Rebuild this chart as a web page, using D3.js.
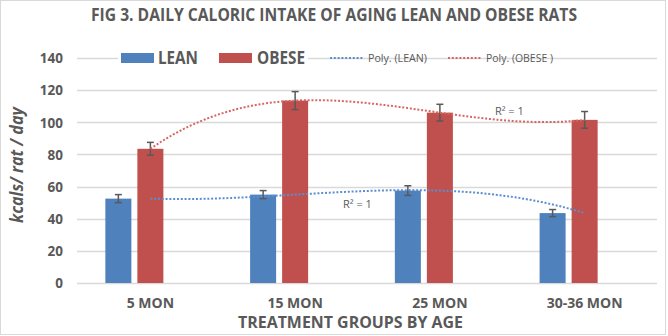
<!DOCTYPE html>
<html>
<head>
<meta charset="utf-8">
<script src="https://cdn.jsdelivr.net/npm/d3@7"></script>
<style>
  html, body { margin: 0; padding: 0; background: #fff; }
  svg { display: block; font-family: "Open Sans", "Noto Sans", sans-serif; }
</style>
</head>
<body>
<svg id="chart" width="668" height="336"></svg>
<script>
// Daily caloric intake data (kcal / rat / day), mean and error
const categories = ["5 MON", "15 MON", "25 MON", "30-36 MON"];
const seriesNames = ["LEAN", "OBESE"];
const leanValues = [52.5, 55, 57.5, 43.5];
const leanErrors = [2.5, 2.5, 3, 2.2];
const obeseValues = [83.5, 113.5, 106, 101.5];
const obeseErrors = [4, 5.6, 5.2, 5.2];
const yTicks = [0, 20, 40, 60, 80, 100, 120, 140];

const colors = { LEAN: "#4f81bd", OBESE: "#c0504d" };
const trendColors = { LEAN: "#5b8ed0", OBESE: "#d46763" };
const textColor = "#595959";
const gridColor = "#d9d9d9";

const svg = d3.select("#chart");

// chart frame
svg.append("rect")
  .attr("x", 0.5).attr("y", 0.5)
  .attr("width", 665).attr("height", 334)
  .attr("fill", "#fff").attr("stroke", gridColor);

const plot = { left: 78, right: 657, top: 58, bottom: 283 };

const y = d3.scaleLinear().domain([0, 140]).range([plot.bottom, plot.top]);
const x = d3.scaleBand().domain(categories)
  .range([plot.left, plot.right])
  .paddingInner(0.378).paddingOuter(0.189);
// third (empty) slot keeps the pair of bars left of the category centre
const xInner = d3.scaleBand().domain(["LEAN", "OBESE", "_"])
  .range([0, x.bandwidth()]).paddingInner(0.1875).paddingOuter(0);
const center = c => x(c) + x.bandwidth() / 2;

// gridlines
svg.append("g").selectAll("line").data(yTicks).join("line")
  .attr("x1", plot.left - 1).attr("x2", plot.right)
  .attr("y1", d => Math.round(y(d)) + 0.5).attr("y2", d => Math.round(y(d)) + 0.5)
  .attr("stroke", gridColor).attr("stroke-width", 1.3);

// y axis labels
const yAxis = svg.append("g").attr("transform", `translate(${plot.left - 15},0)`)
  .call(d3.axisLeft(y).tickValues(yTicks).tickSize(0).tickPadding(0));
yAxis.select(".domain").remove();
yAxis.selectAll("text")
  .attr("fill", textColor).attr("font-size", 13.5).attr("font-weight", "bold")
  .attr("font-family", "'Open Sans', sans-serif").attr("dy", "0.35em");

// x axis labels
const xAxis = svg.append("g").attr("transform", `translate(0,${plot.bottom})`)
  .call(d3.axisBottom(x).tickSize(0).tickPadding(0));
xAxis.select(".domain").remove();
xAxis.selectAll("text")
  .attr("fill", textColor).attr("font-size", 14).attr("font-weight", "bold")
  .attr("font-family", "'Open Sans', sans-serif").attr("y", 25).attr("dy", 0);

// bars
const seriesData = [
  { name: "LEAN", values: leanValues, errors: leanErrors },
  { name: "OBESE", values: obeseValues, errors: obeseErrors }
];
const bars = [];
seriesData.forEach(s => s.values.forEach((v, i) =>
  bars.push({ series: s.name, cat: categories[i], value: v, err: s.errors[i] })));

svg.append("g").selectAll("rect").data(bars).join("rect")
  .attr("x", d => x(d.cat) + xInner(d.series))
  .attr("width", xInner.bandwidth())
  .attr("y", d => y(d.value))
  .attr("height", d => y(0) - y(d.value))
  .attr("fill", d => colors[d.series]);

// error bars
const eb = svg.append("g").attr("stroke", textColor).attr("stroke-width", 1.5);
bars.forEach(d => {
  const cx = x(d.cat) + xInner(d.series) + xInner.bandwidth() / 2;
  const y1 = y(d.value + d.err), y2 = y(d.value - d.err);
  eb.append("line").attr("x1", cx).attr("x2", cx).attr("y1", y1).attr("y2", y2);
  eb.append("line").attr("x1", cx - 3.5).attr("x2", cx + 3.5).attr("y1", y1).attr("y2", y1);
  eb.append("line").attr("x1", cx - 3.5).attr("x2", cx + 3.5).attr("y1", y2).attr("y2", y2);
});

// order-3 polynomial trendlines (exact fit through the four means)
function cubicThrough(vals) {
  return t => {
    let sum = 0;
    for (let i = 0; i < vals.length; i++) {
      let term = vals[i];
      for (let j = 0; j < vals.length; j++) if (j !== i) term *= (t - j) / (i - j);
      sum += term;
    }
    return sum;
  };
}
const tx = d3.scaleLinear().domain([0, categories.length - 1])
  .range([center(categories[0]), center(categories[categories.length - 1])]);
const tSamples = d3.range(0, 3.0001, 0.02);
const trendLine = d3.line().x(t => tx(t));
seriesData.forEach(s => {
  const f = cubicThrough(s.values);
  svg.append("path")
    .attr("d", trendLine.y(t => y(f(t)))(tSamples))
    .attr("fill", "none").attr("stroke", trendColors[s.name])
    .attr("stroke-width", 2).attr("stroke-dasharray", "2,1.8");
});

// R² annotations
const r2 = svg.append("g").attr("fill", textColor).attr("font-size", 11)
  .attr("font-family", "'Open Sans', sans-serif").attr("text-anchor", "middle");
r2.append("text").attr("x", tx(1.43)).attr("y", y(46.5)).text("R² = 1");
r2.append("text").attr("x", tx(2.48)).attr("y", y(104.5)).text("R² = 1");

// title
svg.append("text")
  .attr("x", 334).attr("y", 21).attr("text-anchor", "middle")
  .attr("fill", textColor).attr("font-size", 18).attr("font-weight", "bold")
  .attr("textLength", 486).attr("lengthAdjust", "spacingAndGlyphs")
  .text("FIG 3. DAILY CALORIC INTAKE OF AGING LEAN AND OBESE RATS");

// axis titles
svg.append("text")
  .attr("x", 350.5).attr("y", 328).attr("text-anchor", "middle")
  .attr("fill", textColor).attr("font-size", 16).attr("font-weight", "bold")
  .attr("textLength", 225).attr("lengthAdjust", "spacingAndGlyphs")
  .text("TREATMENT GROUPS BY AGE");

svg.append("text")
  .attr("transform", "translate(23,165) rotate(-90)")
  .attr("text-anchor", "middle")
  .attr("fill", textColor).attr("font-size", 17).attr("font-weight", "bold")
  .attr("font-style", "italic")
  .attr("textLength", 116).attr("lengthAdjust", "spacingAndGlyphs")
  .text("kcals/ rat / day");

// legend
const legend = svg.append("g");
legend.append("rect").attr("x", 118).attr("y", 50).attr("width", 190).attr("height", 17).attr("fill", "#fff");
const barLegend = [
  { name: "LEAN", sx: 121, tx: 158, tw: 40 },
  { name: "OBESE", sx: 219, tx: 257, tw: 48 }
];
barLegend.forEach(d => {
  legend.append("rect").attr("x", d.sx).attr("y", 53).attr("width", 33).attr("height", 10)
    .attr("fill", colors[d.name]);
  legend.append("text").attr("x", d.tx).attr("y", 64)
    .attr("fill", textColor).attr("font-size", 17).attr("font-weight", "bold")
    .attr("textLength", d.tw).attr("lengthAdjust", "spacingAndGlyphs")
    .text(d.name);
});
const trendLegend = [
  { name: "LEAN", label: "Poly. (LEAN)", lx: 330, tx: 368, tw: 59 },
  { name: "OBESE", label: "Poly. (OBESE )", lx: 448, tx: 486, tw: 67 }
];
trendLegend.forEach(d => {
  legend.append("line").attr("x1", d.lx).attr("x2", d.lx + 34)
    .attr("y1", 58).attr("y2", 58)
    .attr("stroke", trendColors[d.name]).attr("stroke-width", 2).attr("stroke-dasharray", "2,1.8");
  legend.append("text").attr("x", d.tx).attr("y", 62)
    .attr("fill", textColor).attr("font-size", 11)
    .attr("textLength", d.tw).attr("lengthAdjust", "spacingAndGlyphs")
    .text(d.label);
});
</script>
</body>
</html>
